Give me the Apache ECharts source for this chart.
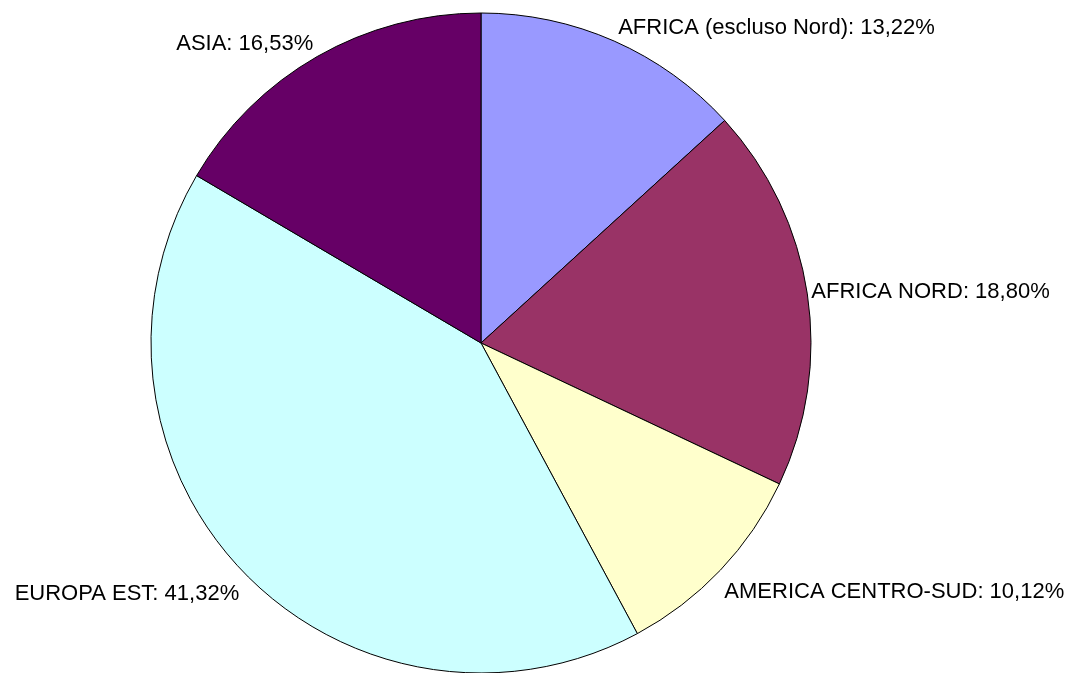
<!DOCTYPE html>
<html>
<head>
<meta charset="utf-8">
<script src="https://cdn.jsdelivr.net/npm/echarts@6/dist/echarts.min.js"></script>
<style>
html,body{margin:0;padding:0;background:#fff;}
#main{width:1077px;height:673px;}
</style>
</head>
<body>
<div id="main"></div>
<script>
const categories = ['AFRICA (escluso Nord)', 'AFRICA NORD', 'AMERICA CENTRO-SUD', 'EUROPA EST', 'ASIA'];
const values = [13.22, 18.80, 10.12, 41.32, 16.53];
const colors = ['#9999FF', '#993366', '#FFFFCC', '#CCFFFF', '#660066'];

const CX = 481, CY = 343, R = 330;
const total = values.reduce((a, b) => a + b, 0);

const chart = echarts.init(document.getElementById('main'));
chart.setOption({
  animation: false,
  backgroundColor: '#ffffff',
  series: [{
    type: 'pie',
    center: [CX, CY],
    radius: R,
    startAngle: 90,
    clockwise: true,
    avoidLabelOverlap: false,
    data: categories.map((c, i) => ({ name: c, value: values[i], itemStyle: { color: colors[i] } })),
    itemStyle: { borderColor: '#000000', borderWidth: 1 },
    label: {
      show: true,
      position: 'outside',
      color: '#000000',
      fontFamily: 'Liberation Sans, Arial, sans-serif',
      fontSize: 22,
      formatter: p => p.name + ': ' + p.value.toFixed(2).replace('.', ',') + '%'
    },
    labelLine: { show: false, length: 0, length2: 0 },
    emphasis: { disabled: true },
    labelLayout: function (p) {
      const i = p.dataIndex;
      let cum = 0;
      for (let k = 0; k < i; k++) cum += values[k];
      const th = 2 * Math.PI * (cum + values[i] / 2) / total;
      const sx = Math.sin(th), cy = Math.cos(th);
      const ex = CX + R * sx, ey = CY - R * cy;
      return {
        x: ex + (sx > 0 ? 4 : -4),
        y: ey - cy * 14 + (cy < 0 ? 12 : 0),
        align: sx > 0 ? 'left' : 'right',
        verticalAlign: 'middle'
      };
    }
  }]
});
</script>
</body>
</html>
